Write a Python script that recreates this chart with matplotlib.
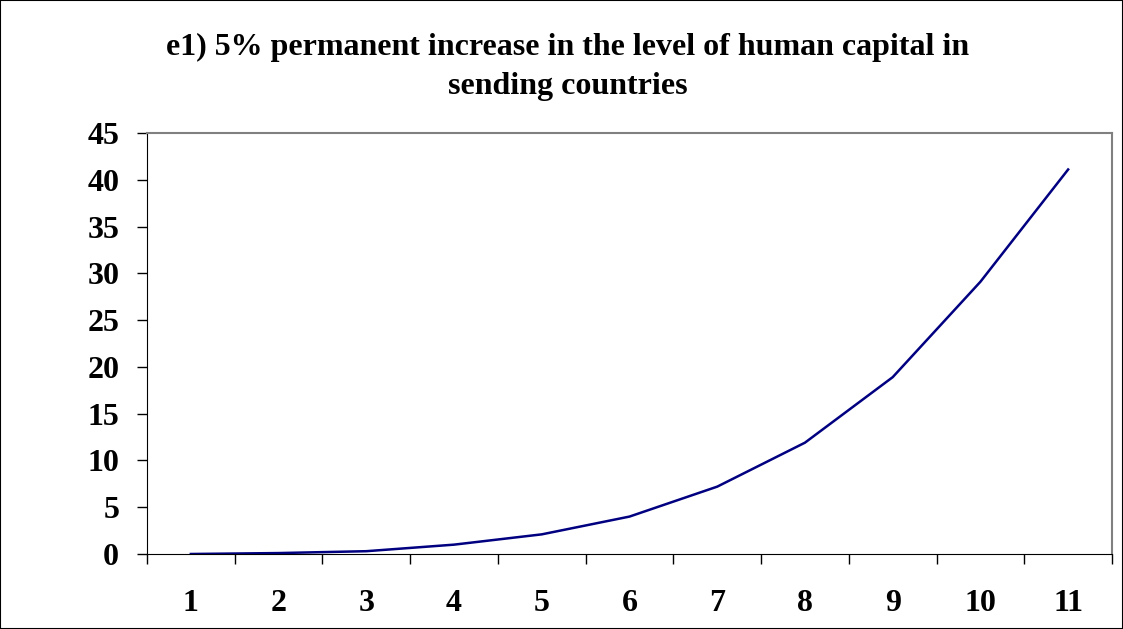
import matplotlib.pyplot as plt
from matplotlib.patches import Rectangle

periods = [1, 2, 3, 4, 5, 6, 7, 8, 9, 10, 11]
values = [0.0, 0.1, 0.3, 1.0, 2.1, 4.0, 7.2, 11.9, 18.9, 29.1, 41.1]
y_ticks = [0, 5, 10, 15, 20, 25, 30, 35, 40, 45]
title = "e1) 5% permanent increase in the level of human capital in\nsending countries"

plt.rcParams['font.family'] = ['Liberation Serif', 'DejaVu Serif']

fig = plt.figure(figsize=(11.23, 6.29), dpi=100)
ax = fig.add_axes([147 / 1123, 1 - 554 / 629, (1112 - 147) / 1123, (554 - 133) / 629])

ax.plot(periods, values, color='#000080', linewidth=1.8)

ax.set_xlim(0.5, 11.5)
ax.set_ylim(0, 45)
ax.set_yticks(y_ticks)
ax.set_xticks(periods)
ax.set_xticklabels([str(p) for p in periods])
ax.set_xticks([p + 0.5 for p in [0] + periods], minor=True)
ax.tick_params(axis='x', which='major', length=0, pad=25)
ax.tick_params(axis='x', which='minor', length=7, width=1, color='black')
ax.tick_params(axis='y', length=7, width=1, pad=13)
for lab in ax.get_xticklabels() + ax.get_yticklabels():
    lab.set_fontsize(23)
    lab.set_fontweight('bold')

ax.spines['top'].set_color('#808080')
ax.spines['right'].set_color('#808080')
ax.spines['top'].set_linewidth(1.5)
ax.spines['right'].set_linewidth(1.5)
ax.spines['left'].set_color('black')
ax.spines['bottom'].set_color('black')

fig.text(568 / 1123, 1 - 67 / 629, title, ha='center', va='center',
         fontsize=23, fontweight='bold', linespacing=1.45)

fig.patches.append(Rectangle((0, 0), 1, 1, transform=fig.transFigure,
                             fill=False, edgecolor='black', linewidth=1.5))

plt.savefig('out.png', dpi=100)
